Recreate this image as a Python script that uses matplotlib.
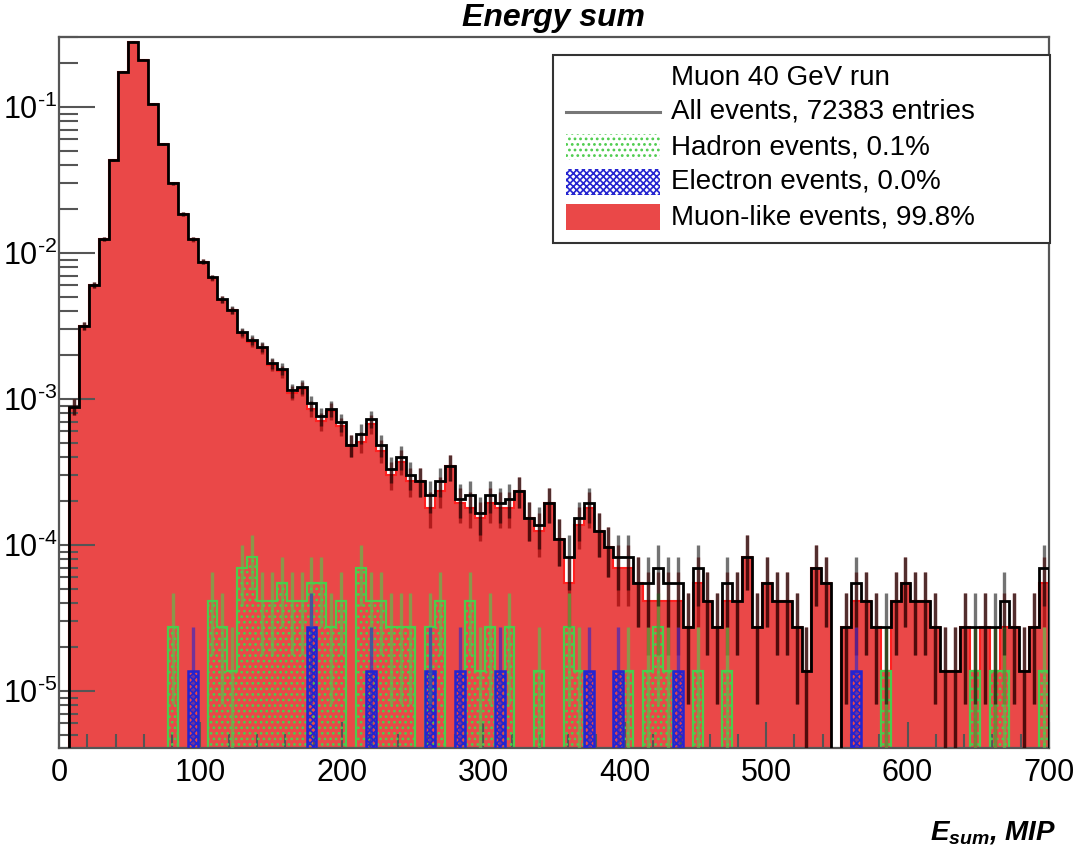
import numpy as np
import matplotlib
matplotlib.use("Agg")
import matplotlib.pyplot as plt
from matplotlib.patches import Rectangle
from matplotlib.lines import Line2D
from matplotlib.ticker import FixedLocator, FuncFormatter, LogLocator, NullFormatter

# --- data (counts per 7 MIP bin) ---
n_entries = 72383
bin_edges = np.arange(0, 701, 7)

all_counts = [
    0, 64, 229, 437, 898, 3141, 12638, 20267, 15200, 7600,
    4039, 2171, 1339, 898, 630, 492, 349, 295, 209, 184,
    164, 127, 116, 83, 88, 68, 55, 62, 50, 35,
    42, 53, 35, 24, 29, 22, 20, 16, 20, 25,
    15, 16, 12, 16, 14, 15, 17, 11, 10, 14,
    8, 6, 11, 14, 9, 7, 6, 6, 4, 4,
    5, 4, 4, 2, 5, 3, 2, 4, 3, 6,
    2, 4, 3, 3, 2, 1, 5, 4, 0, 2,
    4, 3, 2, 2, 3, 4, 3, 3, 2, 1,
    1, 2, 2, 2, 2, 3, 2, 1, 2, 5,
]
hadron_counts = [
    0, 0, 0, 0, 0, 0, 0, 0, 0, 0,
    0, 2, 0, 0, 0, 3, 2, 1, 5, 6,
    3, 3, 4, 3, 3, 4, 4, 2, 3, 0,
    5, 3, 3, 2, 2, 2, 0, 2, 3, 0,
    0, 3, 1, 2, 0, 2, 0, 0, 1, 0,
    0, 2, 1, 0, 0, 0, 0, 1, 0, 1,
    2, 1, 0, 0, 1, 0, 0, 1, 0, 0,
    0, 0, 0, 0, 0, 0, 0, 0, 0, 0,
    0, 0, 0, 1, 0, 0, 0, 0, 0, 0,
    0, 0, 1, 0, 1, 1, 0, 0, 0, 1,
]
electron_counts = [
    0, 0, 0, 0, 0, 0, 0, 0, 0, 0,
    0, 0, 0, 1, 0, 0, 0, 0, 0, 0,
    0, 0, 0, 0, 0, 2, 0, 0, 0, 0,
    0, 1, 0, 0, 0, 0, 0, 1, 0, 0,
    1, 0, 0, 0, 1, 0, 0, 0, 0, 0,
    0, 0, 0, 1, 0, 0, 1, 0, 0, 0,
    0, 0, 1, 0, 0, 0, 0, 0, 0, 0,
    0, 0, 0, 0, 0, 0, 0, 0, 0, 0,
    1, 0, 0, 0, 0, 0, 0, 0, 0, 0,
    0, 0, 0, 0, 0, 0, 0, 0, 0, 0,
]

legend_labels = ["Muon 40 GeV run", "All events, 72383 entries", "Hadron events, 0.1%",
                 "Electron events, 0.0%", "Muon-like events, 99.8%"]

# --- derived ---
all_c = np.array(all_counts, float)
had_c = np.array(hadron_counts, float)
ele_c = np.array(electron_counts, float)
muon_c = np.clip(all_c - had_c - ele_c, 0, None)
centers = 0.5 * (bin_edges[:-1] + bin_edges[1:])

FLOOR = 1e-9
YMIN, YMAX = 4.07e-6, 0.3016

RED = "#ea4848"
GREEN = "#4ccc4c"
BLUE = "#2424d0"

plt.rcParams["font.family"] = ["Liberation Sans", "DejaVu Sans"]
plt.rcParams["mathtext.fontset"] = "custom"
plt.rcParams["mathtext.rm"] = "Liberation Sans"
plt.rcParams["mathtext.it"] = "Liberation Sans:italic"
plt.rcParams["mathtext.bf"] = "Liberation Sans:bold"
plt.rcParams["mathtext.bfit"] = "Liberation Sans:bold:italic"
plt.rcParams["hatch.linewidth"] = 1.2

W, H = 1076, 850
fig = plt.figure(figsize=(W / 100, H / 100), dpi=100)
ax = fig.add_axes([59 / W, 1 - 748 / H, (1049 - 59) / W, (748 - 37) / H])


def norm(c):
    v = c / n_entries
    return np.where(v > 0, v, FLOOR)


def errs(c):
    v = c / n_entries
    e = np.sqrt(c) / n_entries
    lo = np.minimum(e, np.maximum(v - FLOOR, 0))
    return v, lo, e


# muon-like (filled red)
ax.stairs(norm(muon_c), bin_edges, baseline=FLOOR, fill=True, color=RED, zorder=1)
ax.stairs(norm(muon_c), bin_edges, baseline=FLOOR, color="#ff2020", lw=1.5, zorder=1.5)

# hadron (green dots)
ax.stairs(norm(had_c), bin_edges, baseline=FLOOR, fill=True, facecolor="none",
          edgecolor=GREEN, hatch="...", lw=0, zorder=2)
ax.stairs(norm(had_c), bin_edges, baseline=FLOOR, color=GREEN, lw=1.6, zorder=2.1)

# electron (blue hatch)
ax.stairs(norm(ele_c), bin_edges, baseline=FLOOR, fill=True, facecolor="none",
          edgecolor=BLUE, hatch="xxxxx", lw=0, zorder=3)
ax.stairs(norm(ele_c), bin_edges, baseline=FLOOR, color=BLUE, lw=1.8, zorder=3.1)

# error bars
for counts, col, alpha, z in [(muon_c, "#8b0000", 0.6, 4), (had_c, GREEN, 0.6, 4.1),
                              (ele_c, BLUE, 0.6, 4.2), (all_c, "black", 0.55, 4.3)]:
    m = counts > 0
    v, lo, hi = errs(counts[m])
    ax.errorbar(centers[m], v, yerr=[lo, hi], fmt="none", ecolor=col, alpha=alpha,
                elinewidth=2.4, capsize=0, zorder=z)

# all events (black outline)
ax.stairs(norm(all_c), bin_edges, baseline=FLOOR, color="black", lw=2.0, zorder=5)

# --- axes styling ---
ax.set_yscale("log")
ax.set_xlim(bin_edges[0], bin_edges[-1])
ax.set_ylim(YMIN, YMAX)

ax.xaxis.set_major_locator(FixedLocator(np.arange(0, 701, 100)))
ax.xaxis.set_minor_locator(FixedLocator(np.arange(0, 701, 20)))
ax.yaxis.set_major_locator(LogLocator(base=10, numticks=20))
ax.yaxis.set_minor_locator(LogLocator(base=10, subs=np.arange(2, 10), numticks=20))
ax.yaxis.set_minor_formatter(NullFormatter())
ax.yaxis.set_major_formatter(FuncFormatter(
    lambda y, p: r"$\mathregular{10^{\text{-}%d}}$" % abs(int(round(np.log10(y))))))

tick_col = "#555555"
ax.tick_params(axis="both", which="both", direction="in", color=tick_col, width=1.5,
               top=False, right=False)
ax.tick_params(axis="x", which="major", length=19, pad=7, labelsize=22)
ax.tick_params(axis="x", which="minor", length=10)
ax.tick_params(axis="y", which="major", length=26, pad=1, labelsize=22)
ax.tick_params(axis="y", which="minor", length=13.5)
for s in ax.spines.values():
    s.set_color(tick_col)
    s.set_linewidth(1.6)

fig.text(553 / W, 1 - 18 / H, "Energy sum", ha="center", va="center",
         fontsize=23, fontweight="bold", fontstyle="italic")
fig.text(1056 / W, 1 - 832 / H, r"$\mathbfit{E_{sum}{,}\ MIP}$", ha="right", va="center",
         fontsize=20)

# --- legend ---
def fx(px):
    return px / W


def fy(py):
    return 1 - py / H


fig.add_artist(Rectangle((fx(553), fy(243)), fx(1050) - fx(553), fy(55) - fy(243),
                         transform=fig.transFigure, facecolor="white", edgecolor="#333333",
                         lw=1.5, zorder=10))
rows = [78, 112, 147, 182, 217]
bx0, bx1, bh = 566, 660, 26
fig.add_artist(Line2D([fx(bx0), fx(bx1)], [fy(rows[1])] * 2, transform=fig.transFigure,
                      color="#777777", lw=2.2, zorder=11))
fig.add_artist(Rectangle((fx(bx0), fy(rows[2] + bh / 2)), fx(bx1) - fx(bx0), bh / H,
                         transform=fig.transFigure, facecolor="white", edgecolor=GREEN,
                         hatch="...", lw=0, zorder=11))
fig.add_artist(Rectangle((fx(bx0), fy(rows[3] + bh / 2)), fx(bx1) - fx(bx0), bh / H,
                         transform=fig.transFigure, facecolor="white", edgecolor=BLUE,
                         hatch="xxxxx", lw=0, zorder=11))
fig.add_artist(Rectangle((fx(bx0), fy(rows[4] + bh / 2)), fx(bx1) - fx(bx0), bh / H,
                         transform=fig.transFigure, facecolor=RED, edgecolor=RED,
                         lw=0, zorder=11))
for r, lab in zip(rows, legend_labels):
    fig.text(fx(671), fy(r), lab, ha="left", va="center", fontsize=20, zorder=12)

fig.savefig("out.png", dpi=100)
